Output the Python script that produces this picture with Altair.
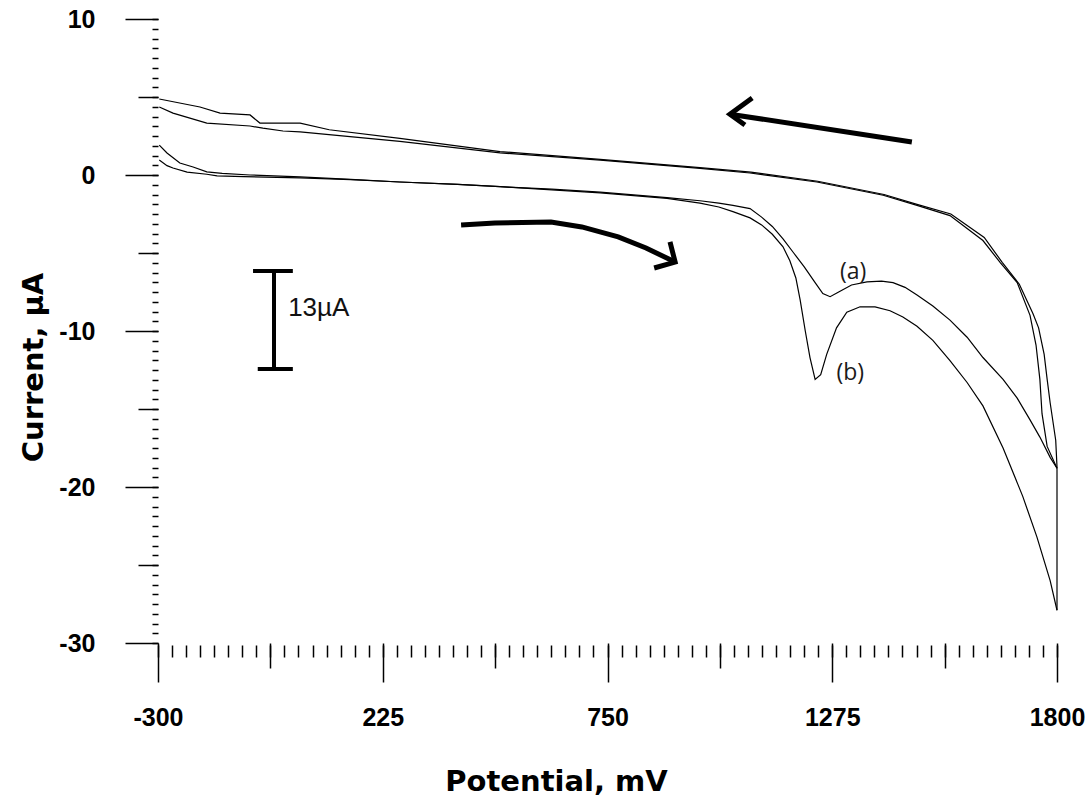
import altair as alt
import pandas as pd

# ---- cyclic voltammograms (potential in mV, current in uA) ----
FWD_A_X = [-297, -279, -265, -232, -186, -162, -100, 32, 150, 265, 400, 499, 620, 733, 889, 966,
           1010, 1043, 1083, 1110, 1135, 1160, 1185, 1210, 1235, 1253, 1270, 1290, 1320, 1356, 1390, 1417,
           1445, 1473, 1510, 1550, 1590, 1627, 1674, 1707, 1737, 1760, 1784, 1800]
FWD_A_Y = [0.96, 0.6, 0.45, 0.19, 0.05, -0.06, -0.1, -0.19, -0.3, -0.45, -0.6, -0.75, -0.9, -1.1, -1.45, -1.65,
           -1.8, -1.95, -2.15, -2.7, -3.3, -4.1, -5.0, -5.9, -6.9, -7.6, -7.8, -7.5, -7.05, -6.85, -6.8, -6.9,
           -7.2, -7.7, -8.4, -9.3, -10.4, -11.7, -13.1, -14.3, -15.7, -16.8, -18.1, -18.8]

FWD_B_X = [-297, -279, -249, -218, -186, -150, -85, 32, 150, 265, 400, 499, 620, 733, 889, 966,
           1010, 1043, 1083, 1110, 1135, 1160, 1176, 1190, 1200, 1212, 1223, 1235, 1248, 1262, 1285, 1309,
           1340, 1375, 1410, 1440, 1473, 1510, 1550, 1590, 1627, 1674, 1720, 1753, 1784, 1800]
FWD_B_Y = [1.92, 1.41, 0.77, 0.51, 0.2, 0.1, 0.0, -0.12, -0.28, -0.45, -0.6, -0.75, -0.95, -1.15, -1.5, -1.8,
           -2.05, -2.35, -2.75, -3.2, -3.8, -4.6, -5.5, -6.6, -8.0, -10.0, -11.7, -13.1, -12.8, -11.5, -9.8, -8.8,
           -8.45, -8.45, -8.7, -9.1, -9.7, -10.6, -11.9, -13.3, -14.8, -17.5, -20.6, -23.2, -26.0, -27.9]

REV_A_X = [1800, 1777, 1765, 1760, 1751, 1737, 1707, 1667, 1627, 1550, 1473, 1394, 1239, 1083, 966, 733,
           499, 265, 32, -8, -55, -85, -186, -265, -297]
REV_A_Y = [-18.8, -17.4, -15.3, -13.1, -10.9, -9.0, -6.9, -5.6, -4.2, -2.6, -1.95, -1.3, -0.45, 0.13, 0.42, 0.95,
           1.42, 2.15, 2.76, 2.82, 3.0, 3.14, 3.33, 3.97, 4.36]

REV_B_X = [1800, 1800, 1797, 1784, 1777, 1770, 1757, 1744, 1712, 1672, 1630, 1552, 1475, 1396, 1241, 1085,
           966, 733, 499, 265, 100, 32, -62, -85, -155, -202, -297]
REV_B_Y = [-27.9, -18.7, -17.0, -14.6, -13.1, -11.5, -9.8, -8.9, -7.0, -5.6, -4.0, -2.5, -1.9, -1.25, -0.4, 0.18,
           0.47, 1.0, 1.5, 2.35, 2.9, 3.33, 3.33, 3.85, 3.97, 4.36, 4.87]

# ---- annotations (data coordinates) ----
ARROW_BACK_X = [1461, 1036]
ARROW_BACK_Y = [2.12, 3.9]
ARROW_BACK_HEAD_X = [1088, 1036, 1071]
ARROW_BACK_HEAD_Y = [4.94, 3.9, 3.2]
ARROW_FWD_X = [408, 487, 618, 690, 775, 840, 908]
ARROW_FWD_Y = [-3.21, -3.08, -3.01, -3.33, -3.97, -4.68, -5.58]
ARROW_FWD_HEAD_X = [896, 908, 859]
ARROW_FWD_HEAD_Y = [-4.29, -5.58, -5.96]
BAR_X = [-29, -29]
BAR_Y = [-6.15, -12.44]
BAR_TOP_X = [-78, 15]
BAR_TOP_Y = [-6.15, -6.15]
BAR_BOT_X = [-67, 15]
BAR_BOT_Y = [-12.44, -12.44]

LABELS = ["(a)", "(b)"]
LABEL_X = [1324, 1317]
LABEL_Y = [-6.2, -12.7]
BAR_LABEL = ["13µA"]
BAR_LABEL_X = [4]
BAR_LABEL_Y = [-8.5]

# ---- axis ticks ----
X_MAJOR = [-300, 225, 750, 1275, 1800]
X_MID = [-37.5, 487.5, 1012.5, 1537.5]
X_MINOR = [-300 + k * 32.8125 for k in range(65)]
Y_MAJOR = [10, 0, -10, -20, -30]
Y_MID = [5, -5, -15, -25]
Y_MINOR = [-30 + k * 0.625 for k in range(65)]


def frame(name, xs, ys):
    return pd.DataFrame({"x": xs, "y": ys, "seg": name, "i": list(range(len(xs)))})


curves = pd.concat([
    frame("fa", FWD_A_X, FWD_A_Y),
    frame("fb", FWD_B_X, FWD_B_Y),
    frame("ra", REV_A_X, REV_A_Y),
    frame("rb", REV_B_X, REV_B_Y),
])
arrows = pd.concat([
    frame("a1", ARROW_BACK_X, ARROW_BACK_Y),
    frame("a1h", ARROW_BACK_HEAD_X, ARROW_BACK_HEAD_Y),
    frame("a2", ARROW_FWD_X, ARROW_FWD_Y),
    frame("a2h", ARROW_FWD_HEAD_X, ARROW_FWD_HEAD_Y),
])
bar = pd.concat([
    frame("b", BAR_X, BAR_Y),
    frame("bt", BAR_TOP_X, BAR_TOP_Y),
    frame("bb", BAR_BOT_X, BAR_BOT_Y),
])
labels = pd.DataFrame({"x": LABEL_X, "y": LABEL_Y, "t": LABELS})
bar_label = pd.DataFrame({"x": BAR_LABEL_X, "y": BAR_LABEL_Y, "t": BAR_LABEL})

xs = alt.Scale(domain=[-300, 1800], nice=False, zero=False)
ys = alt.Scale(domain=[-30, 10], nice=False, zero=False)

common = dict(domain=False, grid=False, tickColor="black", tickWidth=1.5)
hyphen_label = "datum.value < 0 ? '-' + format(-datum.value, 'd') : format(datum.value, 'd')"

x_major = alt.Axis(values=X_MAJOR, orient="bottom", tickSize=39, labelExpr=hyphen_label,
                   labelFont="Liberation Sans", labelFontWeight="bold", labelFontSize=25,
                   labelColor="black", labelPadding=23, labelFlush=False, labelOverlap=False,
                   title="Potential, mV", titleFont="DejaVu Sans", titleFontWeight="bold",
                   titleFontSize=29, titleColor="black", titleX=398, titleY=147,
                   titleAlign="center", titleBaseline="alphabetic", **common)
x_mid = alt.Axis(values=X_MID, orient="bottom", tickSize=25, labels=False, title=None, **common)
x_minor = alt.Axis(values=X_MINOR, orient="bottom", tickSize=12, offset=2, labels=False,
                   title=None, **common)

y_major = alt.Axis(values=Y_MAJOR, orient="left", tickSize=33, labelExpr=hyphen_label,
                   labelFont="Liberation Sans", labelFontWeight="bold", labelFontSize=25,
                   labelColor="black", labelPadding=30, labelFlush=False, labelOverlap=False,
                   title="Current, µA", titleFont="DejaVu Sans", titleFontWeight="bold",
                   titleFontSize=29, titleColor="black", titleX=-116, titleY=348,
                   titleAlign="center", titleBaseline="alphabetic", titleAngle=270, **common)
y_mid = alt.Axis(values=Y_MID, orient="left", tickSize=20, labels=False, title=None, **common)
y_minor = alt.Axis(values=Y_MINOR, orient="left", tickSize=6, labels=False, title=None, **common)

curve_layer = alt.Chart(curves).mark_line(color="black", strokeWidth=1.2).encode(
    x=alt.X("x:Q", scale=xs, axis=x_major),
    y=alt.Y("y:Q", scale=ys, axis=y_major),
    detail="seg:N",
    order="i:Q",
)
bar_layer = alt.Chart(bar).mark_line(color="black", strokeWidth=4).encode(
    x=alt.X("x:Q", scale=xs, axis=x_mid),
    y=alt.Y("y:Q", scale=ys, axis=y_mid),
    detail="seg:N",
    order="i:Q",
)
arrow_layer = alt.Chart(arrows).mark_line(color="black", strokeWidth=5, strokeJoin="miter").encode(
    x=alt.X("x:Q", scale=xs, axis=x_minor),
    y=alt.Y("y:Q", scale=ys, axis=y_minor),
    detail="seg:N",
    order="i:Q",
)
label_layer = alt.Chart(labels).mark_text(font="Open Sans", fontSize=23, color="#1a1a1a").encode(
    x=alt.X("x:Q", scale=xs, axis=None),
    y=alt.Y("y:Q", scale=ys, axis=None),
    text="t:N",
)
bar_label_layer = alt.Chart(bar_label).mark_text(font="Liberation Sans", fontSize=26, align="left",
                                                  color="#111111").encode(
    x=alt.X("x:Q", scale=xs, axis=None),
    y=alt.Y("y:Q", scale=ys, axis=None),
    text="t:N",
)

chart = alt.layer(curve_layer, bar_layer, arrow_layer, label_layer, bar_label_layer).resolve_axis(
    x="independent", y="independent"
).properties(
    width=899, height=624,
    padding={"left": 158, "top": 19, "right": 31, "bottom": 155},
    autosize=alt.AutoSizeParams(type="none"),
    background="white",
).configure_view(stroke=None)

chart.save("out.html", embed_options={"renderer": "svg", "actions": False})
